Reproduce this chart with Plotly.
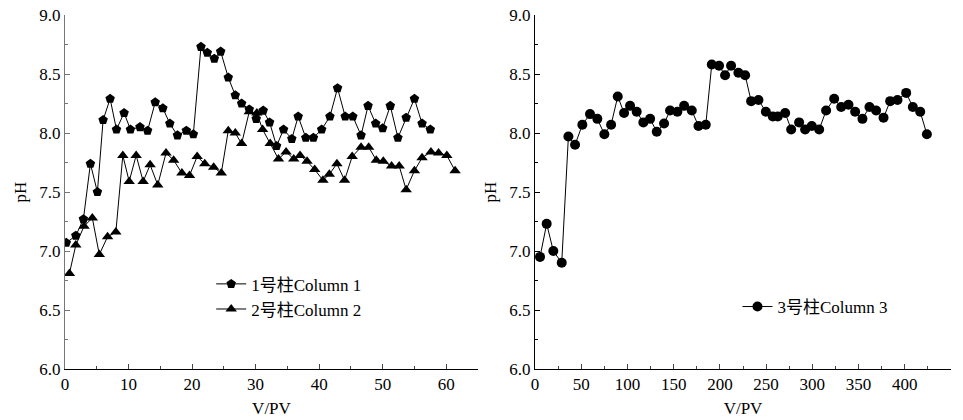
import plotly.graph_objects as go

# Column 1 (pentagons), left panel
c1_x = [0.2, 1.7, 2.9, 4.0, 5.1, 6.0, 7.1, 8.1, 9.3, 10.3, 11.8, 13.0, 14.2, 15.4, 16.5, 17.7,
        19.1, 20.2, 21.4, 22.4, 23.5, 24.5, 25.7, 26.8, 27.8, 29.0, 30.1, 31.2, 32.2, 33.3,
        34.4, 35.7, 36.7, 37.9, 39.1, 40.4, 41.7, 42.9, 44.1, 45.3, 46.6, 47.7, 48.9, 50.0,
        51.2, 52.4, 53.7, 55.0, 56.2, 57.5]
c1_y = [7.07, 7.13, 7.27, 7.74, 7.50, 8.11, 8.29, 8.03, 8.17, 8.03, 8.05, 8.02, 8.26, 8.21,
        8.08, 7.98, 8.02, 7.99, 8.73, 8.68, 8.63, 8.69, 8.47, 8.32, 8.25, 8.20, 8.12, 8.19,
        8.09, 7.89, 8.03, 7.95, 8.14, 7.96, 7.96, 8.03, 8.14, 8.38, 8.14, 8.14, 7.98, 8.23,
        8.08, 8.04, 8.23, 7.96, 8.13, 8.29, 8.08, 8.03]

# Column 2 (triangles), left panel
c2_x = [0.7, 1.7, 3.0, 4.3, 5.4, 6.7, 8.0, 9.1, 10.1, 11.2, 12.3, 13.4, 14.6, 15.9, 17.1,
        18.4, 19.6, 20.8, 22.0, 23.4, 24.6, 25.7, 26.8, 27.8, 29.0, 30.2, 31.1, 32.3, 33.6,
        34.8, 36.0, 37.0, 38.1, 39.3, 40.6, 41.6, 42.8, 44.0, 45.2, 46.6, 47.8, 49.0, 50.1,
        51.4, 52.6, 53.7, 55.0, 56.2, 57.6, 58.8, 60.1, 61.4]
c2_y = [6.81, 7.05, 7.21, 7.28, 6.97, 7.12, 7.16, 7.81, 7.59, 7.81, 7.59, 7.73, 7.56, 7.83,
        7.77, 7.66, 7.64, 7.80, 7.74, 7.71, 7.66, 8.02, 8.00, 7.91, 8.18, 8.17, 8.03, 7.91,
        7.78, 7.84, 7.78, 7.81, 7.76, 7.69, 7.60, 7.65, 7.74, 7.60, 7.80, 7.88, 7.88, 7.77,
        7.76, 7.72, 7.72, 7.52, 7.68, 7.79, 7.84, 7.83, 7.81, 7.68]

# Column 3 (circles), right panel
c3_x = [5.4, 12.6, 19.8, 28.9, 36.1, 43.3, 51.2, 59.5, 67.4, 75.0, 82.3, 89.5, 96.3, 102.8,
        110.0, 117.2, 124.5, 131.7, 139.6, 146.1, 154.0, 161.3, 169.6, 176.8, 184.7, 191.2,
        199.1, 205.6, 212.1, 220.0, 227.3, 233.8, 241.7, 249.7, 257.2, 262.6, 270.6, 277.1,
        285.7, 292.2, 299.4, 307.4, 314.9, 323.6, 331.2, 339.1, 346.3, 354.2, 361.8, 369.0,
        377.0, 384.2, 392.1, 401.5, 408.7, 416.7, 423.9]
c3_y = [6.95, 7.23, 7.00, 6.90, 7.97, 7.90, 8.07, 8.16, 8.12, 7.99, 8.07, 8.31, 8.17, 8.23,
        8.18, 8.09, 8.12, 8.01, 8.08, 8.19, 8.18, 8.23, 8.19, 8.06, 8.07, 8.58, 8.57, 8.49,
        8.57, 8.51, 8.49, 8.27, 8.28, 8.18, 8.14, 8.14, 8.17, 8.03, 8.09, 8.03, 8.06, 8.03,
        8.19, 8.29, 8.22, 8.24, 8.18, 8.12, 8.22, 8.19, 8.13, 8.27, 8.28, 8.34, 8.22, 8.18,
        7.99]

names = ["1号柱Column 1", "2号柱Column 2", "3号柱Column 3"]

FONT = "Liberation Serif, Times New Roman, Noto Sans CJK SC, serif"
FS = 17

fig = go.Figure()
fig.add_trace(go.Scatter(x=c1_x, y=c1_y, mode="lines+markers", name=names[0],
                         line=dict(color="black", width=1),
                         marker=dict(symbol="pentagon", size=10, color="black"),
                         xaxis="x", yaxis="y", legend="legend"))
fig.add_trace(go.Scatter(x=c2_x, y=c2_y, mode="lines+markers", name=names[1],
                         line=dict(color="black", width=1),
                         marker=dict(symbol="triangle-up", size=10, color="black"),
                         xaxis="x", yaxis="y", legend="legend"))
fig.add_trace(go.Scatter(x=c3_x, y=c3_y, mode="lines+markers", name=names[2],
                         line=dict(color="black", width=1),
                         marker=dict(symbol="circle", size=10, color="black"),
                         xaxis="x2", yaxis="y2", legend="legend2"))

common_y = dict(range=[6.0, 9.0], tickmode="linear", tick0=6.0, dtick=0.5,
                tickformat=".1f", ticks="inside", ticklen=5, showgrid=False,
                zeroline=False, showline=True, linewidth=1, automargin=False,
                minor=dict(dtick=0.25, ticks="inside", ticklen=3),
                title=dict(text="pH", standoff=8, font=dict(size=FS, family=FONT)),
                tickfont=dict(size=FS, family=FONT, color="black"))
common_x = dict(ticks="inside", ticklen=5, showgrid=False, zeroline=False,
                showline=True, linewidth=1, linecolor="black", automargin=False,
                title=dict(text="V/PV", standoff=8, font=dict(size=FS, family=FONT)),
                tickfont=dict(size=FS, family=FONT, color="black"))

fig.update_layout(
    width=963, height=420,
    margin=dict(l=65, r=12, t=15, b=51),
    paper_bgcolor="white", plot_bgcolor="white",
    font=dict(family=FONT, size=FS, color="black"),
    xaxis=dict(domain=[0, 0.4661], range=[0, 65], tickmode="linear", tick0=0, dtick=10,
               minor=dict(dtick=5, ticks="inside", ticklen=3), anchor="y", **common_x),
    yaxis=dict(domain=[0, 1], anchor="x", linecolor="#777777", tickcolor="#777777", **common_y),
    xaxis2=dict(domain=[0.5305, 1], range=[0, 450], tickmode="linear", tick0=0, dtick=50,
                minor=dict(dtick=25, ticks="inside", ticklen=3), anchor="y2", **common_x),
    yaxis2=dict(domain=[0, 1], anchor="x2", linecolor="black", tickcolor="black", **common_y),
    legend=dict(x=0.165, y=0.29, xanchor="left", yanchor="top",
                bgcolor="rgba(0,0,0,0)", font=dict(size=FS, family=FONT),
                tracegroupgap=0, itemwidth=30),
    legend2=dict(x=0.759, y=0.226, xanchor="left", yanchor="top",
                 bgcolor="rgba(0,0,0,0)", font=dict(size=FS, family=FONT),
                 itemwidth=30),
)

fig.write_html("out.html")
